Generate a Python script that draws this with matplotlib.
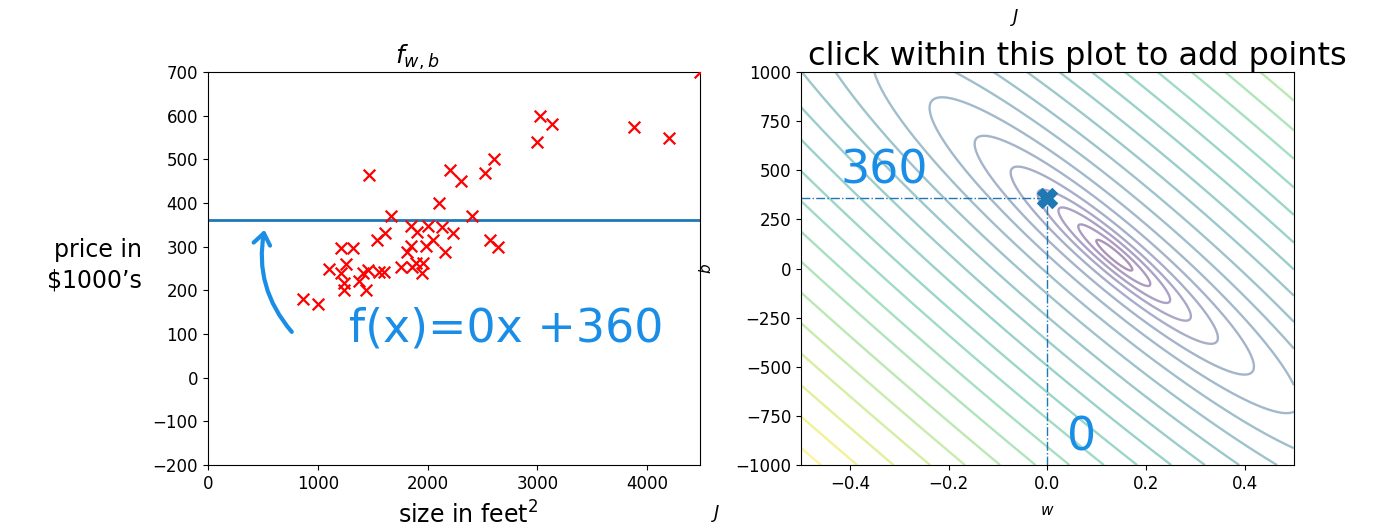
import numpy as np
import matplotlib.pyplot as plt

# house data (size in feet^2, price in $1000's)
x_train = np.array([864, 1006, 1106, 1212, 1318, 1257, 1212, 1242, 1242, 1378,
                    1439, 1453, 1408, 1466, 1538, 1559, 1605, 1608, 1671, 1756,
                    1813, 1847, 1850, 1862, 1892, 1907, 1947, 1961, 1982, 2001,
                    2049, 2103, 2133, 2158, 2200, 2233, 2306, 2400, 2520, 2572,
                    2608, 2641, 2995, 3025, 3137, 3877, 4198, 4478])
y_train = np.array([180, 169, 249, 298, 298, 260, 239, 216, 201, 221,
                    201, 247, 239, 464, 315, 243, 243, 331, 371, 254,
                    287, 348, 302, 254, 262, 334, 239, 262, 302, 348,
                    315, 401, 346, 287, 476, 331, 450, 370, 469, 315,
                    500, 300, 540, 599, 580, 575, 548, 699])

# current parameters shown on the plots
w_cur = 0.0
b_cur = 360

xticks_left = [0, 1000, 2000, 3000, 4000]
yticks_left = [-200, -100, 0, 100, 200, 300, 400, 500, 600, 700]
wticks = [-0.4, -0.2, 0.0, 0.2, 0.4]
bticks = [-1000, -750, -500, -250, 0, 250, 500, 750, 1000]

# contour spacing, as sqrt(J - Jmin)
ring_levels = [20, 40, 62, 85, 115, 155, 205, 268, 340, 420, 505, 595, 690,
               785, 885, 985, 1090, 1195, 1300, 1410, 1520, 1630]

hand = '#1a8ee6'

fig = plt.figure(figsize=(13.91, 5.28), dpi=100)
ax0 = fig.add_axes([0.1495, 0.1193, 0.3537, 0.7443])
ax1 = fig.add_axes([0.5758, 0.1193, 0.3544, 0.7443])

# ---- left: data and the model line
ax0.scatter(x_train, y_train, marker='x', c='r', s=70, linewidths=1.6, zorder=3)
ax0.axhline(w_cur * 0 + b_cur, color='C0', lw=2)
ax0.set_xlim(0, 4480)
ax0.set_ylim(-200, 700)
ax0.set_xticks(xticks_left)
ax0.set_yticks(yticks_left)
ax0.tick_params(labelsize=12)
ax0.set_title('$f_{w,b}$', fontsize=18, x=0.425, pad=2)
ax0.set_xlabel('size in feet$^2$', fontsize=17, va='center')
ax0.xaxis.set_label_coords(0.528, -0.128)
ax0.set_ylabel("price in\n$1000\u2019s", fontsize=17, rotation=0, ha='right', va='center',
               linespacing=1.35)
ax0.yaxis.set_label_coords(-0.134, 0.509)

# handwritten notes
ax0.text(1280, 112, 'f(x)=0x +360', color=hand, fontsize=33, va='center')
ax0.annotate('', xy=(520, 345), xytext=(780, 100),
             arrowprops=dict(arrowstyle='->,head_length=0.8,head_width=0.6', color=hand, lw=3,
                             connectionstyle='arc3,rad=-0.25'))

# ---- right: cost contours
w_grid = np.linspace(-0.5, 0.5, 400)
b_grid = np.linspace(-1000, 1000, 400)
W, B = np.meshgrid(w_grid, b_grid)
J = ((W[..., None] * x_train + B[..., None] - y_train) ** 2).mean(axis=-1) / 2
dist = np.sqrt(J - J.min())
levels = [l for l in ring_levels if l < dist.max()]
cols = plt.cm.viridis(np.linspace(0.05, 1, len(levels)))
ax1.contour(W, B, dist, levels=levels, colors=cols, alpha=0.45, linewidths=1.7)
ax1.scatter([w_cur], [b_cur], marker='X', s=200, color='C0', zorder=5)
ax1.hlines(b_cur, -0.5, w_cur, linestyles='-.', color='C0', lw=1)
ax1.vlines(w_cur, -1000, b_cur, linestyles='-.', color='C0', lw=1)
ax1.set_xlim(-0.5, 0.5)
ax1.set_ylim(-1000, 1000)
ax1.set_xticks(wticks)
ax1.set_yticks(bticks)
ax1.tick_params(labelsize=12)
ax1.set_title('click within this plot to add points', fontsize=23, x=0.56, pad=3)
ax1.set_xlabel('$w$', fontsize=11, va='center')
ax1.xaxis.set_label_coords(0.5, -0.115)
ax1.set_ylabel('$b$', fontsize=11, va='center')
ax1.yaxis.set_label_coords(-0.193, 0.5)

ax1.text(-0.42, 495, '360', color=hand, fontsize=33, va='center')
ax1.text(0.04, -865, '0', color=hand, fontsize=33, va='center')

fig.text(1015 / 1391, 1 - 18 / 528, '$J$', fontsize=13, ha='center', va='center')
fig.text(716 / 1391, 1 - 514 / 528, '$J$', fontsize=13, ha='center', va='center')

fig.savefig('out.png', dpi=100)
